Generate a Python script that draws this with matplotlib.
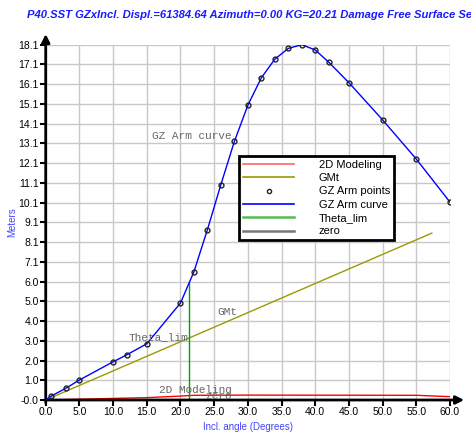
import numpy as np
import matplotlib
matplotlib.use('Agg')
import matplotlib.pyplot as plt
from matplotlib.lines import Line2D

# GZ arm curve (heel angle in degrees, GZ in meters)
gz_angles = [0.0, 0.8, 3.0, 5.0, 10.0, 12.0, 15.0, 20.0, 22.0, 24.0, 26.0, 28.0, 30.0,
             32.0, 34.0, 36.0, 38.0, 40.0, 42.0, 45.0, 50.0, 55.0, 60.0]
gz_values = [0.0, 0.2, 0.6, 1.02, 1.95, 2.3, 2.87, 4.95, 6.55, 8.7, 11.0, 13.2, 15.05,
             16.45, 17.4, 17.95, 18.14, 17.87, 17.25, 16.2, 14.3, 12.3, 10.1]

# GMt straight line
gmt_angles = [0.0, 57.3]
gmt_values = [0.0, 8.52]

# 2D Modeling
mod_angles = [0.0, 10.0, 15.0, 20.0, 22.0, 30.0, 55.0, 60.0]
mod_values = [0.0, 0.08, 0.12, 0.2, 0.24, 0.25, 0.24, 0.17]

theta_lim = 21.2
theta_top = 5.95

xticks = [0, 5, 10, 15, 20, 25, 30, 35, 40, 45, 50, 55, 60]
xtick_labels = ['0.0', '5.0', '10.0', '15.0', '20.0', '25.0', '30.0', '35.0', '40.0',
                '45.0', '50.0', '55.0', '60.0']
ytick_labels = ['-0.0', '1.0', '2.0', '3.0', '4.0', '5.0', '6.0', '7.1', '8.1', '9.1',
                '10.1', '11.1', '12.1', '13.1', '14.1', '15.1', '16.1', '17.1', '18.1']
ymax = 18.14

title = 'P40.SST GZxIncl. Displ.=61384.64 Azimuth=0.00 KG=20.21 Damage Free Surface Set'

W, H = 471, 433
fig = plt.figure(figsize=(W / 100, H / 100), dpi=100)
ax = fig.add_axes([45.7 / W, 1 - 400 / H, (450 - 45.7) / W, (400 - 44.7) / H])

sans = 'Liberation Sans'
mono = 'Liberation Mono'
olive = '#9a9a00'
green = '#00a000'

ax.plot(mod_angles, mod_values, color='red', lw=1, zorder=3)
ax.plot(gmt_angles, gmt_values, color=olive, lw=1, zorder=3)
ax.plot(gz_angles, gz_values, color='blue', lw=1, zorder=4)
ax.plot(gz_angles[1:], gz_values[1:], 'o', ms=3.5, mfc='none', mec='#222222', mew=1, zorder=5)
ax.plot([theta_lim, theta_lim], [0, theta_top], color=green, lw=1, zorder=3)
ax.plot([0, 60], [0, 0], color='#555555', lw=1, zorder=2)

# curve labels
lab = dict(fontfamily=mono, fontsize=8, color='#666666', ha='right', va='center', zorder=6)
ax.text(27.6, 13.47, 'GZ Arm curve', **lab)
ax.text(21.1, 3.2, 'Theta_lim', **lab)
ax.text(28.4, 4.5, 'GMt', **lab)
ax.text(27.6, 0.5, '2D Modeling', **lab)
ax.text(27.6, 0.22, 'zero', **lab)

ax.set_xlim(0, 60)
ax.set_ylim(0, ymax)
ax.set_xticks(xticks)
ax.set_xticklabels(xtick_labels, fontfamily=sans, fontsize=7.5)
ax.set_yticks(np.linspace(0, ymax, len(ytick_labels)))
ax.set_yticklabels(ytick_labels, fontfamily=sans, fontsize=7.5)
ax.tick_params(length=4, width=1.5, pad=1, color='black')
ax.grid(True, color='#c8c8c8', lw=1)
ax.set_axisbelow(True)
for s in ax.spines.values():
    s.set_visible(False)

# arrow axes
ax.annotate('', xy=(1.035, 0), xytext=(0, 0), xycoords='axes fraction',
            arrowprops=dict(arrowstyle='-|>', lw=2, color='black', mutation_scale=12,
                            shrinkA=0, shrinkB=0), annotation_clip=False)
ax.annotate('', xy=(0, 1.03), xytext=(0, -0.008), xycoords='axes fraction',
            arrowprops=dict(arrowstyle='-|>', lw=2, color='black', mutation_scale=12,
                            shrinkA=0, shrinkB=0), annotation_clip=False)

ax.set_xlabel('Incl. angle (Degrees)', fontfamily=sans, fontsize=7, color='#4444ff', labelpad=4)
ax.set_ylabel('Meters', fontfamily=sans, fontsize=7, color='#4444ff', labelpad=1)

handles = [
    Line2D([], [], color='#ff6666', lw=1.2),
    Line2D([], [], color=olive, lw=1.2),
    Line2D([], [], ls='none', marker='o', ms=3, mfc='none', mec='#222222'),
    Line2D([], [], color='blue', lw=1.2),
    Line2D([], [], color='#55bb55', lw=1.8),
    Line2D([], [], color='#777777', lw=1.8),
]
names = ['2D Modeling', 'GMt', 'GZ Arm points', 'GZ Arm curve', 'Theta_lim', 'zero']
leg = ax.legend(handles, names, loc='upper left', bbox_to_anchor=(0.479, 0.687),
                prop={'family': sans, 'size': 8}, fancybox=False, framealpha=1,
                edgecolor='black', handlelength=4.6, labelspacing=0.3,
                borderpad=0.35, handletextpad=2.2, borderaxespad=0)
leg.get_frame().set_linewidth(2)
leg.set_zorder(10)

fig.text(27 / W, 1 - 15 / H, title, fontfamily=sans, fontsize=8.1, fontweight='bold',
         fontstyle='italic', color='#1a1aff', va='center', ha='left')

fig.savefig('out.png', dpi=100)
